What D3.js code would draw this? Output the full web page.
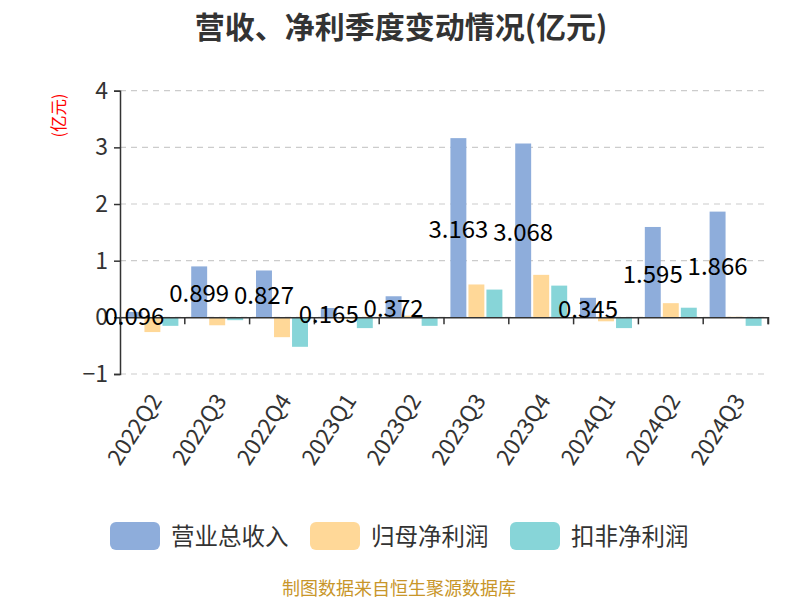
<!DOCTYPE html>
<html><head><meta charset="utf-8">
<script src="https://cdn.jsdelivr.net/npm/d3@7"></script>
<style>body{margin:0;background:#fff;} text{font-family:"Noto Sans CJK SC","Noto Sans",sans-serif;}</style>
</head><body><svg id="c" width="800" height="600"></svg>
<script>
const categories = ["2022Q2","2022Q3","2022Q4","2023Q1","2023Q2","2023Q3","2023Q4","2024Q1","2024Q2","2024Q3"];
const seriesNames = ["营业总收入","归母净利润","扣非净利润"];
const revenue = [0.096,0.899,0.827,0.165,0.372,3.163,3.068,0.345,1.595,1.866];
const netProfit = [-0.26,-0.14,-0.35,-0.03,0.03,0.58,0.75,-0.07,0.25,0.01];
const deductedProfit = [-0.15,-0.05,-0.52,-0.19,-0.15,0.49,0.56,-0.19,0.17,-0.15];
const yTicks = [-1,0,1,2,3,4];
const colors = ["#8eaddb","#ffd898","#87d5d8"];

const svg = d3.select("#c");
const x0 = d3.scaleBand().domain(categories).range([120,768]);
const y = d3.scaleLinear().domain([-1,4]).range([374,90.7]);
const bw = x0.bandwidth();
const x1 = d3.scaleBand().domain(seriesNames).range([bw*0.099, bw*0.901]).paddingInner(0.115);
const data = [revenue, netProfit, deductedProfit];

// title
svg.append("text").attr("x",401).attr("y",25).attr("text-anchor","middle").attr("dominant-baseline","central")
  .attr("font-size",30).attr("font-weight","bold").attr("fill","#333").text("营收、净利季度变动情况(亿元)");
// unit label
svg.append("text").attr("transform","translate(58,115.5) rotate(-90)").attr("text-anchor","middle").attr("dominant-baseline","central")
  .attr("font-size",16.5).attr("fill","#ff0000").text("(亿元)");

// grid
svg.append("g").selectAll("line").data(yTicks).join("line")
  .attr("x1",120).attr("x2",768).attr("y1",d=>y(d)).attr("y2",d=>y(d))
  .attr("stroke","#ccc").attr("stroke-dasharray","6,5").attr("stroke-width",1.2);

// y axis
const yAxis = svg.append("g").attr("transform","translate(120,0)")
  .call(d3.axisLeft(y).tickValues(yTicks).tickSize(6).tickPadding(6).tickFormat(d3.format("d")));
yAxis.select(".domain").attr("stroke","#333").attr("stroke-width",1.5);
yAxis.selectAll(".tick line").attr("stroke","#333").attr("stroke-width",1.5);
yAxis.selectAll("text").attr("font-size",23).attr("fill","#333").attr("font-family","'Noto Sans CJK SC'");

// bars
data.forEach((arr,si)=>{
  svg.append("g").selectAll("rect").data(arr).join("rect")
    .attr("x",(d,i)=>x0(categories[i])+x1(seriesNames[si]))
    .attr("width",x1.bandwidth())
    .attr("y",d=>Math.min(y(d),y(0)))
    .attr("height",d=>Math.abs(y(d)-y(0)))
    .attr("fill",colors[si]);
});

// x axis at zero
const xAxis = svg.append("g").attr("transform",`translate(0,${y(0)})`)
  .call(d3.axisBottom(x0).tickSize(7).tickFormat(""));
xAxis.select(".domain").attr("stroke","#333").attr("stroke-width",1.5);
xAxis.selectAll(".tick line").attr("stroke","#333").attr("stroke-width",1.5)
  .attr("transform",`translate(${-bw/2},0)`);
xAxis.append("line").attr("x1",768).attr("x2",768).attr("y1",0).attr("y2",7).attr("stroke","#333").attr("stroke-width",1.5);

// x labels at bottom
svg.append("g").selectAll("text").data(categories).join("text")
  .attr("transform",d=>`translate(${x0(d)+bw/2+2},${y(-1)+21}) rotate(-57)`)
  .attr("text-anchor","end").attr("dominant-baseline","central")
  .attr("font-size",22.5).attr("fill","#333").text(d=>d);

// value labels
svg.append("g").selectAll("text").data(revenue).join("text")
  .attr("x",(d,i)=>x0(categories[i])+x1(seriesNames[0])+x1.bandwidth()/2)
  .attr("y",d=>(y(d)+y(0))/2)
  .attr("text-anchor","middle").attr("dominant-baseline","central")
  .attr("font-size",24).attr("fill","#000").text(d=>d3.format(".3f")(d));

// legend
const lx = [110,310,510];
seriesNames.forEach((n,i)=>{
  svg.append("rect").attr("x",lx[i]).attr("y",522).attr("width",50).attr("height",28).attr("rx",6).attr("fill",colors[i]);
  svg.append("text").attr("x",lx[i]+61).attr("y",535).attr("dominant-baseline","central")
    .attr("font-size",23.5).attr("fill","#333").text(n);
});

// footer
svg.append("text").attr("x",399).attr("y",587).attr("text-anchor","middle").attr("dominant-baseline","central")
  .attr("font-size",18).attr("fill","#c8962a").text("制图数据来自恒生聚源数据库");
</script></body></html>
